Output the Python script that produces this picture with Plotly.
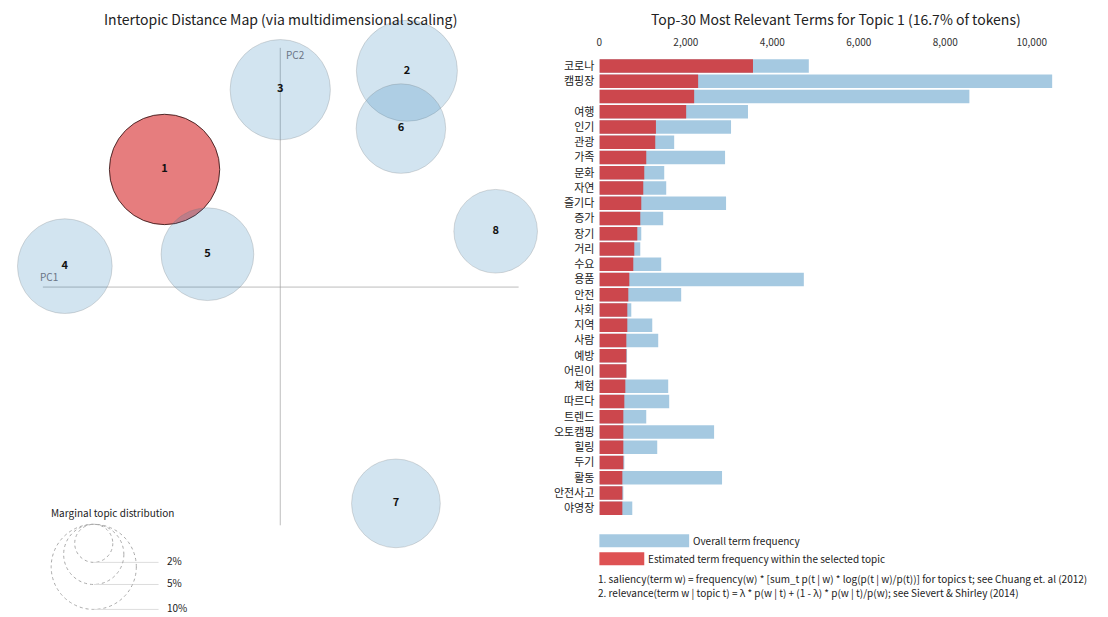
import plotly.graph_objects as go

W, H = 1108, 617

# ---------------- data ----------------
topic_ids = ["1", "2", "3", "4", "5", "6", "7", "8"]
topic_pc1 = [-0.116, 0.127, 0.000, -0.216, -0.073, 0.121, 0.116, 0.216]
topic_pc2 = [0.118, 0.217, 0.198, 0.021, 0.033, 0.159, -0.217, 0.056]
topic_pct = [16.7, 14.0, 13.8, 12.3, 11.8, 11.0, 10.8, 9.6]
selected_topic = "1"

legend_pcts = [2, 5, 10]

terms = ["코로나", "캠핑장", " ", "여행", "인기", "관광", "가족", "문화", "자연", "즐기다",
         "증가", "장기", "거리", "수요", "용품", "안전", "사회", "지역", "사람", "예방",
         "어린이", "체험", "따르다", "트렌드", "오토캠핑", "힐링", "두기", "활동", "안전사고", "야영장"]
overall_freq = [4844, 10473, 8558, 3437, 3045, 1730, 2907, 1500, 1546, 2930,
                1476, 969, 946, 1430, 4729, 1892, 738, 1223, 1361, 640,
                630, 1592, 1615, 1084, 2653, 1338, 577, 2837, 554, 761]
topic_freq = [3553, 2284, 2192, 2007, 1308, 1292, 1084, 1038, 1015, 969,
              946, 877, 807, 784, 692, 669, 646, 646, 623, 623,
              623, 600, 577, 554, 554, 554, 554, 531, 531, 531]
bar_ticks = [0, 2000, 4000, 6000, 8000, 10000]

# ---------------- helpers ----------------
FONT = "Noto Sans CJK KR, Noto Sans, sans-serif"
K = 13.5  # px radius per sqrt(percent)


def px(x):
    return x / W


def py(y):
    return 1 - y / H


fig = go.Figure()

# ---------- intertopic distance map ----------
fills, lines = [], []
for t in topic_ids:
    if t == selected_topic:
        fills.append("rgba(214,39,40,0.6)")
        lines.append("rgba(40,10,10,0.8)")
    else:
        fills.append("rgba(31,119,180,0.2)")
        lines.append("rgba(120,120,120,0.25)")

sizes = [2 * K * (p ** 0.5) for p in topic_pct]

fig.add_trace(go.Scatter(
    x=topic_pc1, y=topic_pc2, mode="markers+text",
    text=["<b>%s</b>" % t for t in topic_ids],
    textposition="middle center",
    textfont=dict(family=FONT, size=11, color="#111"),
    marker=dict(size=sizes, color=fills, opacity=1, line=dict(color=lines, width=1)),
    xaxis="x", yaxis="y", hoverinfo="skip", showlegend=False,
))

# ---------- bar chart ----------
fig.add_trace(go.Bar(
    x=overall_freq, y=terms, orientation="h",
    marker=dict(color="rgba(31,119,180,0.4)", line=dict(width=0)),
    xaxis="x2", yaxis="y2", hoverinfo="skip", showlegend=False,
))
fig.add_trace(go.Bar(
    x=topic_freq, y=terms, orientation="h",
    marker=dict(color="rgba(214,39,40,0.8)", line=dict(width=0)),
    xaxis="x2", yaxis="y2", hoverinfo="skip", showlegend=False,
))

shapes = []
annotations = []

# PC axes lines
shapes.append(dict(type="line", xref="x", yref="y", x0=-0.238, x1=0.239, y0=0, y1=0,
                   line=dict(color="rgba(160,160,160,0.7)", width=1), layer="below"))
shapes.append(dict(type="line", xref="x", yref="y", x0=0, x1=0, y0=-0.239, y1=0.240,
                   line=dict(color="rgba(160,160,160,0.7)", width=1), layer="below"))
annotations.append(dict(xref="x", yref="y", x=-0.243, y=0.001, text="PC1", showarrow=False,
                        xanchor="left", yanchor="bottom",
                        font=dict(family=FONT, size=10, color="#6b7585")))
annotations.append(dict(xref="x", yref="y", x=0.004, y=0.243, text="PC2", showarrow=False,
                        xanchor="left", yanchor="top",
                        font=dict(family=FONT, size=10, color="#6b7585")))

# Titles
annotations.append(dict(xref="paper", yref="paper", x=px(278), y=py(17),
                        text="Intertopic Distance Map (via multidimensional scaling)",
                        showarrow=False, xanchor="center", yanchor="middle",
                        font=dict(family=FONT, size=14, color="#222")))
annotations.append(dict(xref="paper", yref="paper", x=px(835), y=py(17),
                        text="Top-30 Most Relevant Terms for Topic %s (%.1f%% of tokens)"
                             % (selected_topic, topic_pct[topic_ids.index(selected_topic)]),
                        showarrow=False, xanchor="center", yanchor="middle",
                        font=dict(family=FONT, size=14, color="#222")))

# Marginal topic distribution legend
annotations.append(dict(xref="paper", yref="paper", x=px(46), y=py(512),
                        text="Marginal topic distribution", showarrow=False,
                        xanchor="left", yanchor="middle",
                        font=dict(family=FONT, size=10, color="#222")))
cx, top = 91, 524
for p in legend_pcts:
    r = K * (p ** 0.5)
    shapes.append(dict(type="circle", xref="paper", yref="paper",
                       x0=px(cx - r), x1=px(cx + r), y0=py(top + 2 * r), y1=py(top),
                       line=dict(color="#aaaaaa", width=1, dash="dot")))
    shapes.append(dict(type="line", xref="paper", yref="paper",
                       x0=px(cx), x1=px(156), y0=py(top + 2 * r), y1=py(top + 2 * r),
                       line=dict(color="#dddddd", width=1)))
    annotations.append(dict(xref="paper", yref="paper", x=px(162), y=py(top + 2 * r - 2),
                            text="%d%%" % p, showarrow=False, xanchor="left", yanchor="middle",
                            font=dict(family=FONT, size=10, color="#222")))

# Bar legend
shapes.append(dict(type="rect", xref="paper", yref="paper", x0=px(598), x1=px(688),
                   y0=py(547), y1=py(534), fillcolor="rgba(31,119,180,0.4)", line=dict(width=0)))
shapes.append(dict(type="rect", xref="paper", yref="paper", x0=px(598), x1=px(643),
                   y0=py(565), y1=py(552), fillcolor="rgba(214,39,40,0.8)", line=dict(width=0)))
annotations.append(dict(xref="paper", yref="paper", x=px(690), y=py(540),
                        text="Overall term frequency", showarrow=False,
                        xanchor="left", yanchor="middle",
                        font=dict(family=FONT, size=10, color="#222")))
annotations.append(dict(xref="paper", yref="paper", x=px(645), y=py(558),
                        text="Estimated term frequency within the selected topic", showarrow=False,
                        xanchor="left", yanchor="middle",
                        font=dict(family=FONT, size=10, color="#222")))
annotations.append(dict(xref="paper", yref="paper", x=px(595), y=py(578),
                        text="1. saliency(term w) = frequency(w) * [sum_t p(t | w) * log(p(t | w)/p(t))] for topics t; see Chuang et. al (2012)",
                        showarrow=False, xanchor="left", yanchor="middle",
                        font=dict(family=FONT, size=10, color="#222")))
annotations.append(dict(xref="paper", yref="paper", x=px(595), y=py(592),
                        text="2. relevance(term w | topic t) = λ * p(w | t) + (1 - λ) * p(w | t)/p(w); see Sievert & Shirley (2014)",
                        showarrow=False, xanchor="left", yanchor="middle",
                        font=dict(family=FONT, size=10, color="#222")))

fig.update_layout(
    width=W, height=H,
    margin=dict(l=0, r=0, t=0, b=0),
    paper_bgcolor="white", plot_bgcolor="white",
    barmode="overlay", bargap=0.12,
    shapes=shapes, annotations=annotations,
    font=dict(family=FONT),
    xaxis=dict(domain=[0, px(560)], range=[-0.278, 0.282], showgrid=False,
               zeroline=False, showticklabels=False, showline=False, fixedrange=True),
    yaxis=dict(domain=[0, 1], range=[-0.331, 0.286], showgrid=False,
               zeroline=False, showticklabels=False, showline=False, fixedrange=True),
    xaxis2=dict(domain=[px(598), px(1060)], range=[0, 10657], anchor="y2", side="top",
                tickvals=bar_ticks, tickformat=",", showgrid=False, zeroline=False,
                showline=False, ticks="", ticklabelstandoff=9,
                tickfont=dict(family=FONT, size=10, color="#333")),
    yaxis2=dict(domain=[py(515.5), py(56.5)], anchor="x2", type="category",
                categoryorder="array", categoryarray=terms, autorange="reversed",
                showgrid=False, zeroline=False, showline=False, ticks="",
                ticklabelstandoff=4,
                tickfont=dict(family=FONT, size=11, color="#222")),
)

fig.write_html("out.html")
